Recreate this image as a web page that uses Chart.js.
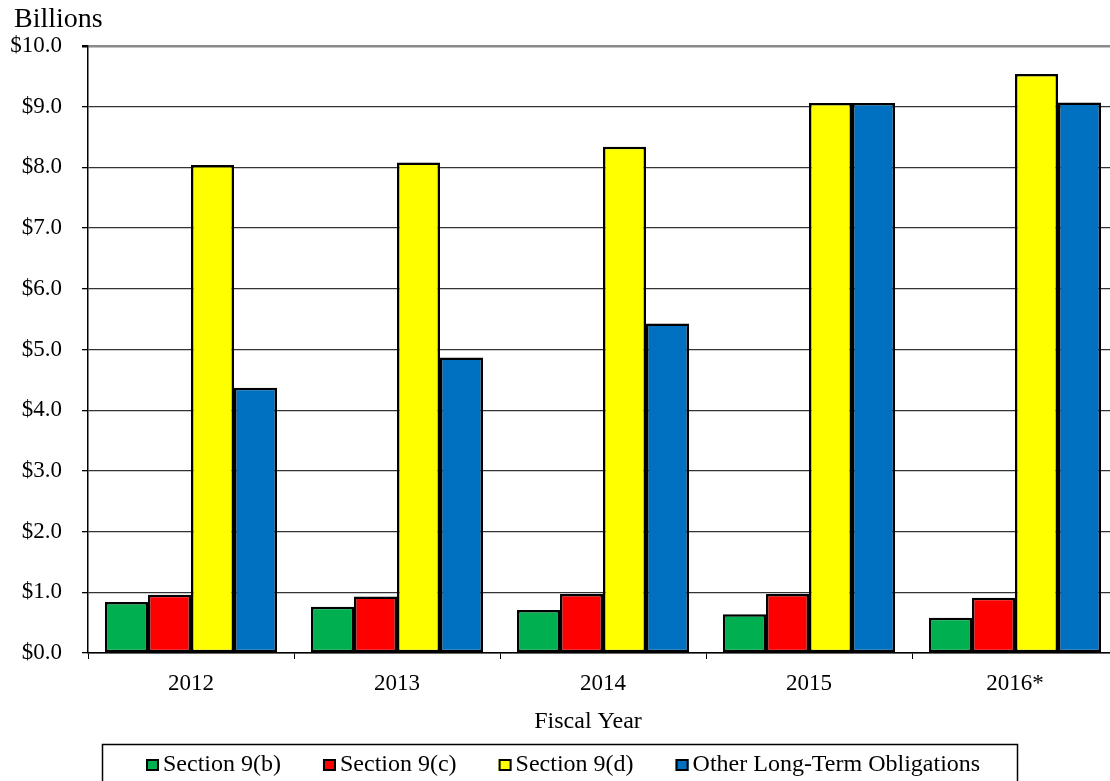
<!DOCTYPE html>
<html>
<head>
<meta charset="utf-8">
<script src="https://cdn.jsdelivr.net/npm/chart.js@4.4.1/dist/chart.umd.min.js"></script>
<style>
  html, body { margin: 0; padding: 0; background: #fff; overflow: hidden; }
  #wrap { position: relative; width: 1120px; height: 781px; }
</style>
</head>
<body>
<div id="wrap"><canvas id="chart"></canvas></div>
<script>
// Fiscal years on the category axis
const years = ['2012', '2013', '2014', '2015', '2016*'];

// Obligations by category, in billions of dollars
const section9b = [0.84, 0.76, 0.71, 0.64, 0.58];
const section9c = [0.96, 0.93, 0.97, 0.97, 0.91];
const section9d = [8.04, 8.08, 8.34, 9.06, 9.54];
const otherLongTerm = [4.37, 4.87, 5.43, 9.06, 9.07];

// Series names and fills
const seriesLabels = ['Section 9(b)', 'Section 9(c)', 'Section 9(d)', 'Other Long-Term Obligations'];
const seriesColors = ['#00B050', '#FF0000', '#FFFF00', '#0070C0'];

// Value axis range and step
const yMin = 0;
const yMax = 10;
const yStep = 1;

const unitLabel = 'Billions';
const xAxisTitle = 'Fiscal Year';

const SERIF = '"Liberation Serif", "Times New Roman", serif';

// Draws the unit caption, the axis title and the boxed legend
const annotations = {
  id: 'annotations',
  afterDraw(chart) {
    const ctx = chart.ctx;
    ctx.save();
    ctx.fillStyle = '#000';
    ctx.textBaseline = 'alphabetic';
    ctx.textAlign = 'left';
    ctx.font = '28px ' + SERIF;
    ctx.fillText(unitLabel, 14, 27);

    ctx.font = '24px ' + SERIF;
    ctx.textAlign = 'center';
    ctx.textBaseline = 'middle';
    ctx.fillText(xAxisTitle, 588, 722);

    // legend frame
    ctx.strokeStyle = '#000';
    ctx.lineWidth = 1.5;
    ctx.strokeRect(102.5, 744.5, 915, 40);

    // legend entries
    ctx.textAlign = 'left';
    ctx.textBaseline = 'middle';
    ctx.font = '24px ' + SERIF;
    let x = 146;
    const cy = 765;
    chart.data.datasets.forEach((ds) => {
      ctx.fillStyle = ds.backgroundColor;
      ctx.fillRect(x, cy - 6, 13, 12);
      ctx.strokeStyle = '#000';
      ctx.lineWidth = 2;
      ctx.strokeRect(x + 1, cy - 5, 11, 10);
      ctx.fillStyle = '#000';
      ctx.fillText(ds.label, x + 17, cy);
      x += 17 + ctx.measureText(ds.label).width + 42;
    });
    ctx.restore();
  }
};

const seriesValues = [section9b, section9c, section9d, otherLongTerm];

new Chart(document.getElementById('chart'), {
  type: 'bar',
  data: {
    labels: years,
    datasets: seriesValues.map((vals, i) => ({
      label: seriesLabels[i],
      data: vals,
      backgroundColor: seriesColors[i],
      borderColor: '#000',
      borderWidth: 2.5,
      borderSkipped: false,
      categoryPercentage: 0.835,
      barPercentage: 1.0
    }))
  },
  options: {
    responsive: true,
    maintainAspectRatio: false,
    animation: false,
    devicePixelRatio: 1,
    layout: { padding: { top: 46, right: 2, left: 0, bottom: 0 } },
    plugins: {
      legend: { display: false },
      tooltip: { enabled: false },
      title: { display: false }
    },
    scales: {
      x: {
        offset: true,
        afterFit(scale) { scale.height = 128; },
        grid: {
          display: true,
          drawOnChartArea: false,
          drawTicks: true,
          tickLength: 6,
          color: '#000',
          tickColor: '#000',
          offset: true
        },
        border: { display: true, color: '#000', width: 1.5 },
        ticks: {
          color: '#000',
          padding: 11,
          font: { family: SERIF, size: 23 },
          maxRotation: 0
        }
      },
      y: {
        min: yMin,
        max: yMax,
        afterFit(scale) { scale.width = 88; },
        grid: {
          color: (c) => (c.tick && c.tick.value === yMax ? '#8a8a8a' : '#333333'),
          lineWidth: (c) => (c.tick && c.tick.value === yMax ? 2.5 : 1.3),
          tickColor: '#000',
          tickLength: 6,
          drawTicks: true
        },
        border: { display: true, color: '#000', width: 1.5 },
        ticks: {
          stepSize: yStep,
          color: '#000',
          padding: 20,
          font: { family: SERIF, size: 23 },
          callback: (v) => '$' + Number(v).toFixed(1)
        }
      }
    }
  },
  plugins: [annotations]
});
</script>
</body>
</html>
